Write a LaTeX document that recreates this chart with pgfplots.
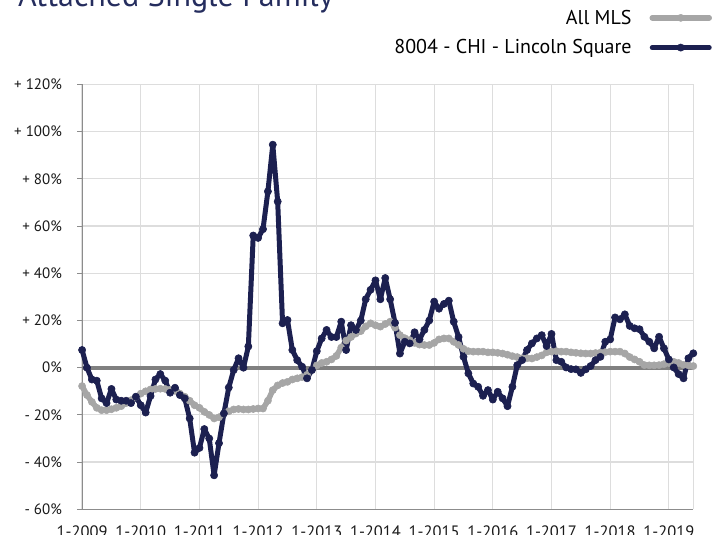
\documentclass[border=0pt]{standalone}
\usepackage{pgfplots}
\pgfplotsset{compat=1.18}
\usepackage{fontspec}
\setmainfont{PT Sans}
\definecolor{navy}{HTML}{1C2050}
\definecolor{titlenavy}{HTML}{252D5E}
\definecolor{mlsgray}{HTML}{A6A6A6}
\definecolor{zerogray}{HTML}{808080}
\definecolor{gridgray}{HTML}{DDDDDD}
\definecolor{axgray}{HTML}{8C8C8C}
\begin{document}
\begin{tikzpicture}
\useasboundingbox (0,0) rectangle (716pt,535pt);
\clip (0,0) rectangle (716pt,535pt);
\node[anchor=base west, inner sep=0pt, font=\fontsize{32}{38}\selectfont, text=titlenavy] at (18pt,528pt) {Attached Single Family};
\begin{axis}[
  at={(82.1pt,25.7pt)}, anchor=south west,
  scale only axis, width=611.2pt, height=424.8pt,
  xmin=0, xmax=125, ymin=-60, ymax=120,
  axis x line*=bottom, axis y line*=left,
  axis line style={-, draw=axgray, line width=1pt},
  xtick={0,12,...,120},
  xticklabels={1-2009,1-2010,1-2011,1-2012,1-2013,1-2014,1-2015,1-2016,1-2017,1-2018,1-2019},
  extra x ticks={125}, extra x tick labels={},
  ytick={-60,-40,...,120},
  yticklabels={- 60\%,- 40\%,- 20\%,0\%,+ 20\%,+ 40\%,+ 60\%,+ 80\%,+ 100\%,+ 120\%},
  grid=major, major grid style={draw=gridgray, line width=1.2pt},
  xtick style={draw=none},
  ytick style={draw=axgray, line width=1pt},
  tick align=outside, major tick length=5pt,
  tick label style={font=\fontsize{15}{18}\selectfont, text=black!90},
  yticklabel style={anchor=east, inner sep=0pt, xshift=-15pt},
  xticklabel style={anchor=north, inner sep=0pt, yshift=-11pt, font=\fontsize{16.5}{19}\selectfont},
  clip=false,
  legend style={at={(rel axis cs:1.0306,1.1754)}, anchor=north east, draw=none, fill=none,
    inner sep=0pt, outer sep=0pt, row sep=14pt, font=\fontsize{20}{24}\selectfont,
    nodes={inner sep=0pt},
    /tikz/every odd column/.append style={column sep=18pt}},
  legend cell align=right, legend plot pos=right,
  legend image code/.code={\draw[mark repeat=2,mark phase=2,#1] plot coordinates {(0pt,0pt) (28.5pt,0pt) (57pt,0pt)};},
]
\addplot[zerogray, line width=4pt, forget plot] coordinates {(0,0) (125,0)};
\addplot[mlsgray, line width=5.5pt, line cap=round, line join=round, mark=*, mark size=3.6pt, mark options={line width=0.5pt, fill=mlsgray}] coordinates {
(0,-7.8)(1,-11.6)(2,-14.5)(3,-17)(4,-18)(5,-18)(6,-17.6)(7,-17)(8,-16.3)(9,-15)
(10,-13.8)(11,-12.3)(12,-11)(13,-10)(14,-9.2)(15,-9)(16,-8.9)(17,-9)(18,-9.3)(19,-9.8)
(20,-11)(21,-12.3)(22,-14)(23,-15.9)(24,-17)(25,-18.7)(26,-20)(27,-21.5)(28,-21)(29,-19.4)
(30,-18.5)(31,-17.7)(32,-17.5)(33,-17.7)(34,-17.7)(35,-17.5)(36,-17.3)(37,-17.3)(38,-14)(39,-9.5)
(40,-7.5)(41,-6.5)(42,-6)(43,-5)(44,-4.5)(45,-4)(46,-3)(47,-1)(48,1)(49,2)
(50,2.5)(51,3.5)(52,5)(53,8.5)(54,11.5)(55,13)(56,14.5)(57,15.5)(58,17.5)(59,18.8)
(60,18)(61,17.4)(62,18.5)(63,19.5)(64,17)(65,13.8)(66,12.5)(67,11.7)(68,10.5)(69,9.8)
(70,9.6)(71,9.6)(72,10.5)(73,12)(74,12.4)(75,12.4)(76,11)(77,9.6)(78,8)(79,7)
(80,6.8)(81,6.8)(82,6.8)(83,6.5)(84,6.5)(85,6.3)(86,6)(87,5.5)(88,4.9)(89,4.5)
(90,4)(91,4)(92,3.9)(93,4.5)(94,5.2)(95,6.5)(96,6.8)(97,7)(98,6.8)(99,6.8)
(100,6.5)(101,6.3)(102,6.1)(103,6)(104,6)(105,6.2)(106,6.4)(107,6.6)(108,6.8)(109,6.8)
(110,6.8)(111,6)(112,4.5)(113,3.5)(114,2.5)(115,1.1)(116,1)(117,1)(118,1.1)(119,1.5)
(120,2)(121,2.5)(122,2)(123,1.2)(124,1)(125,0.7)
};
\addlegendentry{All MLS\hspace{20pt}}
\addplot[navy, line width=5pt, line cap=round, line join=round, mark=*, mark size=3.6pt, mark options={line width=0.6pt, fill=navy}] coordinates {
(0,7.5)(1,0)(2,-5)(3,-5.5)(4,-13)(5,-15)(6,-9)(7,-13.5)(8,-14)(9,-14)
(10,-15)(11,-12.3)(12,-15.9)(13,-19)(14,-12)(15,-5)(16,-2.7)(17,-5.5)(18,-10.6)(19,-8.5)
(20,-11.6)(21,-13)(22,-21.5)(23,-36)(24,-34)(25,-26)(26,-30)(27,-45.6)(28,-32)(29,-19.4)
(30,-8.4)(31,-1)(32,4)(33,0)(34,9)(35,56)(36,55)(37,58.7)(38,74.7)(39,94.5)
(40,70.4)(41,18.8)(42,20.2)(43,7.5)(44,3.2)(45,0.4)(46,-4.5)(47,-1)(48,7)(49,12.4)
(50,16)(51,13)(52,13)(53,19.5)(54,7.5)(55,18)(56,16)(57,20)(58,29)(59,33)
(60,37)(61,29)(62,38)(63,29)(64,19)(65,6)(66,11)(67,10.3)(68,15)(69,12)
(70,16)(71,20)(72,28)(73,25)(74,27)(75,28.4)(76,19.5)(77,13)(78,4.6)(79,-2.4)
(80,-6.7)(81,-8.1)(82,-11.9)(83,-9.5)(84,-13.5)(85,-10.2)(86,-13)(87,-16.3)(88,-8.1)(89,1.1)
(90,3.2)(91,7.5)(92,10.3)(93,12.4)(94,13.8)(95,9.2)(96,14.3)(97,3.2)(98,2.5)(99,0.1)
(100,-0.6)(101,-0.7)(102,-2.2)(103,-0.7)(104,0.7)(105,3.2)(106,4.6)(107,11)(108,12)(109,21.3)
(110,20.5)(111,22.6)(112,17.7)(113,16.7)(114,16.3)(115,13.1)(116,11)(117,8.2)(118,13.1)(119,8.2)
(120,3.5)(121,0.1)(122,-2.7)(123,-4.5)(124,4)(125,6.1)
};
\addlegendentry{8004 - CHI - Lincoln Square}
\end{axis}
\end{tikzpicture}
\end{document}
